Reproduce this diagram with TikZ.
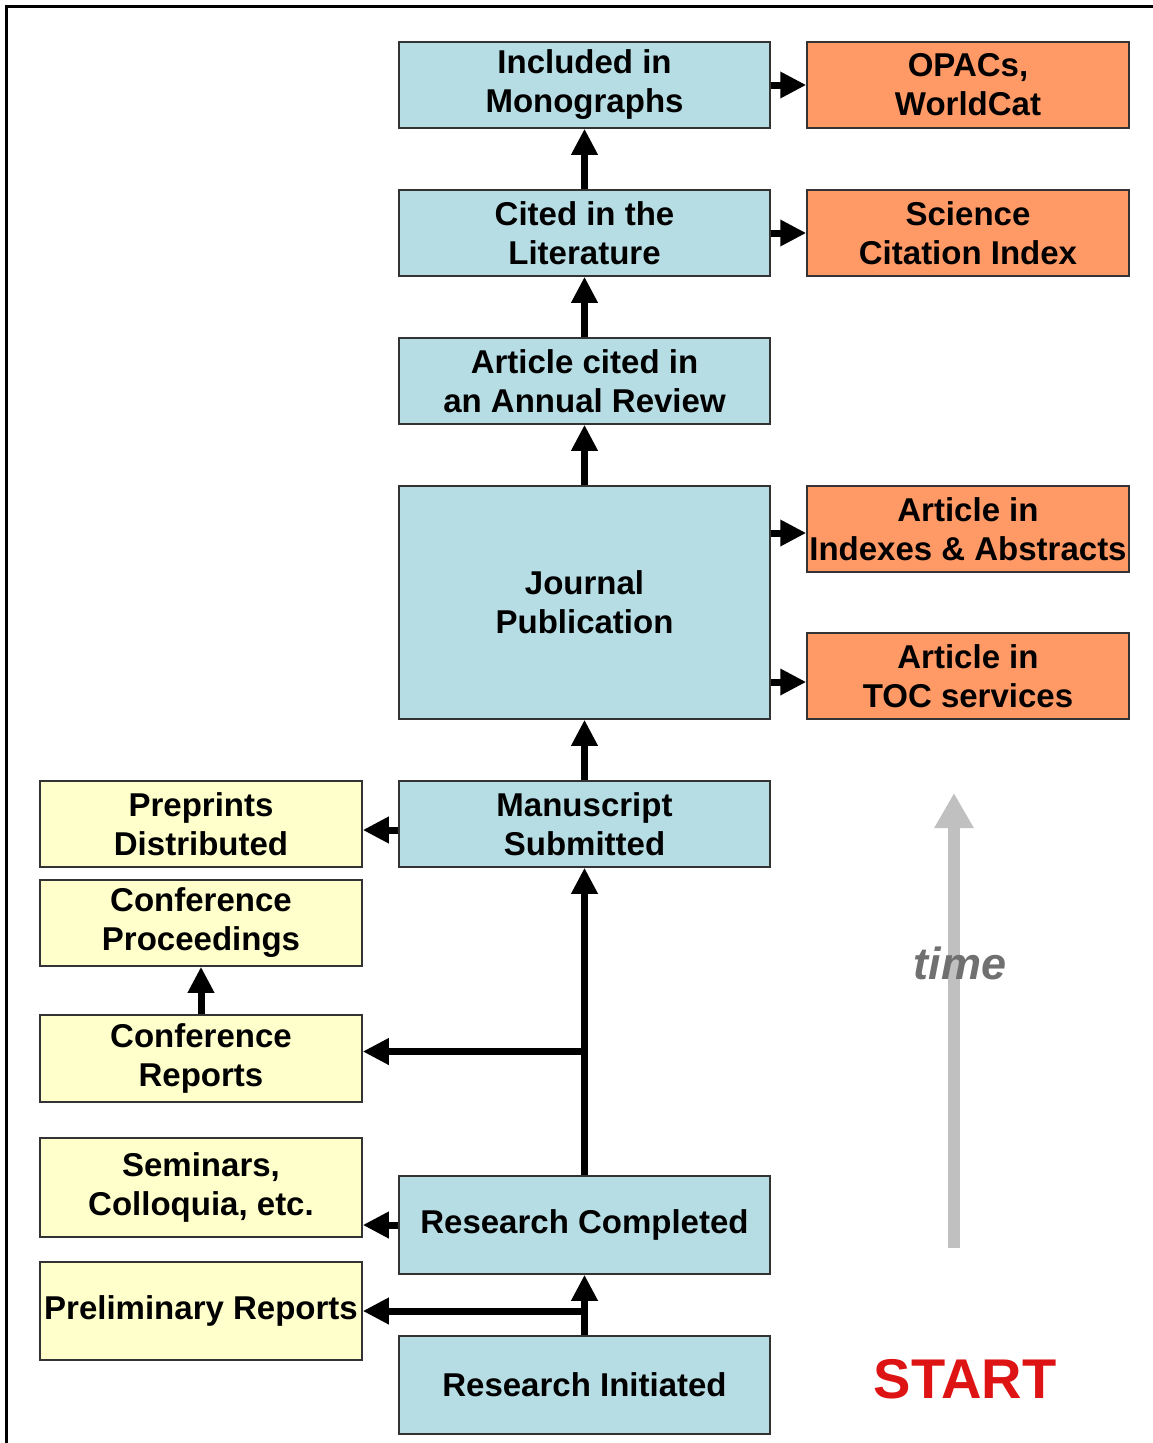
\documentclass[tikz,border=0pt]{standalone}
\usepackage{fontspec}
\setmainfont{Liberation Sans}
\usetikzlibrary{arrows.meta}
\definecolor{boxblue}{RGB}{183,221,228}
\definecolor{boxorange}{RGB}{255,153,102}
\definecolor{boxyellow}{RGB}{255,255,204}
\definecolor{timegray}{RGB}{192,192,192}
\definecolor{timetext}{RGB}{112,112,112}
\definecolor{startred}{RGB}{222,20,20}
\begin{document}
\begin{tikzpicture}[x=1pt,y=-1pt,
  card/.style={draw=black!80,line width=1.5pt,inner sep=0pt,align=center,
    minimum width=#1,text=black,
    font=\bfseries\fontsize{33}{39}\selectfont},
  blue/.style={card=371pt,fill=boxblue},
  orange/.style={card=322pt,fill=boxorange},
  yellow/.style={card=322pt,fill=boxyellow},
  arr/.style={line width=7pt,-{Triangle[length=26pt,width=25pt]}},
  timearr/.style={line width=12pt,draw=timegray,-{Triangle[length=35pt,width=37pt]}}
]
\useasboundingbox (0,0) rectangle (1153,1443);
\fill[white] (0,0) rectangle (1153,1443);

% frame
\coordinate (fbl) at (6.5,1443);
\coordinate (ftl) at (6.5,6.5);
\coordinate (ftr) at (1153,6.5);
\draw[line width=3pt] (fbl) -- (ftl) -- (ftr);

% central column
\node[blue,minimum height=86pt]  (mono)  at (584.5,85)   {Included in\\Monographs};
\node[blue,minimum height=86pt]  (cited) at (584.5,233)  {Cited in the\\Literature};
\node[blue,minimum height=86pt]  (annual) at (584.5,381) {Article cited in\\an Annual Review};
\node[blue,minimum height=233pt] (jour)  at (584.5,602.5) {Journal\\Publication};
\node[blue,minimum height=86pt]  (manu)  at (584.5,824)  {Manuscript\\Submitted};
\node[blue,minimum height=98pt]  (rcomp) at (584.5,1225) {Research Completed};
\node[blue,minimum height=98pt]  (rinit) at (584.5,1385) {Research Initiated};

% secondary sources
\node[orange,minimum height=86pt] (opac) at (968,85)  {OPACs,\\WorldCat};
\node[orange,minimum height=86pt] (sci)  at (968,233) {Science\\Citation Index};
\node[orange,minimum height=86pt] (idx)  at (968,529) {Article in\\Indexes \& Abstracts};
\node[orange,minimum height=86pt] (toc)  at (968,676) {Article in\\TOC services};

% grey literature
\node[yellow,minimum height=86pt] (prep)  at (201,824)    {Preprints\\Distributed};
\node[yellow,minimum height=86pt] (cproc) at (201,923)    {Conference\\Proceedings};
\node[yellow,minimum height=87pt] (crep)  at (201,1058.5) {Conference\\Reports};
\node[yellow,minimum height=99pt] (sem)   at (201,1187.5) {Seminars,\\Colloquia, etc.};
\node[yellow,minimum height=98pt] (prel)  at (201,1311)   {Preliminary Reports};

% main flow
\draw[arr] (cited.north) -- (mono.south);
\draw[arr] (annual.north) -- (cited.south);
\draw[arr] (jour.north) -- (annual.south);
\draw[arr] (manu.north) -- (jour.south);
\draw[arr] (rcomp.north) -- (manu.south);
\draw[arr] (rinit.north) -- (rcomp.south);

% side outputs
\draw[arr] (mono.east) -- (opac.west);
\draw[arr] (cited.east) -- (sci.west);
\draw[arr] ([yshift=-4pt]idx.west -| jour.east) -- ([yshift=-4pt]idx.west);
\draw[arr] ([yshift=-6pt]toc.west -| jour.east) -- ([yshift=-6pt]toc.west);
\draw[arr] ([yshift=-6pt]manu.west) -- ([yshift=-6pt]prep.east);
\draw[arr] (rcomp.west) -- (rcomp.west -| sem.east);
\draw[arr] (crep.north) -- (cproc.south);
\draw[arr] ([yshift=7pt]crep.east -| rcomp.north) -- ([yshift=7pt]crep.east);
\draw[arr] (prel.east -| rinit.north) -- (prel.east);

% time axis
\coordinate (tbot) at (954,1248);
\coordinate (ttop) at (954,793);
\draw[timearr] (tbot) -- (ttop);
\node[text=timetext,font=\bfseries\itshape\fontsize{45}{50}\selectfont] (tlabel) at (960,963) {time};

\node[text=startred,font=\bfseries\fontsize{56}{60}\selectfont] (start) at (965,1379) {START};
\end{tikzpicture}
\end{document}
